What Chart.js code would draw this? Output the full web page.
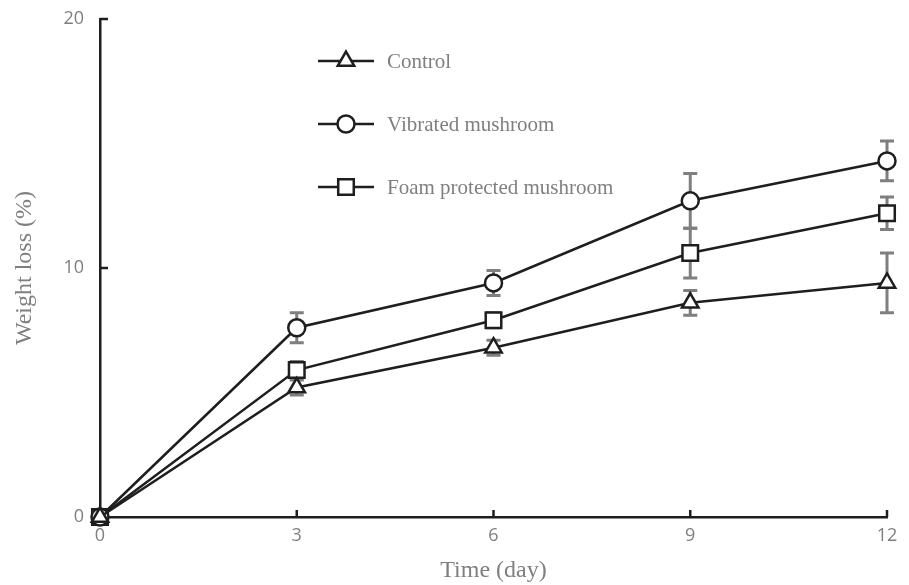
<!DOCTYPE html>
<html>
<head>
<meta charset="utf-8">
<script src="https://cdn.jsdelivr.net/npm/chart.js@4.4.1/dist/chart.umd.min.js"></script>
<style>
  html, body { margin: 0; padding: 0; background: #fff; }
  #wrap { width: 909px; height: 585px; position: relative; }
</style>
</head>
<body>
<div id="wrap"><canvas id="myChart" width="909" height="585"></canvas></div>
<script>
"use strict";

const days = [0, 3, 6, 9, 12];
const xTicks = [0, 3, 6, 9, 12];
const yTicks = [0, 10, 20];

const controlLoss = [0, 5.2, 6.8, 8.6, 9.4];
const controlErr = [0, 0.3, 0.3, 0.5, 1.2];

const vibratedLoss = [0, 7.6, 9.4, 12.7, 14.3];
const vibratedErr = [0, 0.6, 0.5, 1.1, 0.8];

const foamLoss = [0, 5.9, 7.9, 10.6, 12.2];
const foamErr = [0, 0.35, 0.3, 1.0, 0.65];

const labels = ['Control', 'Vibrated mushroom', 'Foam protected mushroom'];
const markers = ['triangle', 'circle', 'rect'];

const ink = '#1e1e1e';
const grey = '#7f7f7f';
const serif = '"Liberation Serif", "Times New Roman", serif';
const sans = '"Open Sans", "Liberation Sans", sans-serif';

function toPoints(values) {
    return days.map((d, i) => ({x: d, y: values[i]}));
}

function makeSet(label, values, errs, marker, radius) {
    return {
        label: label,
        data: toPoints(values),
        errors: errs,
        borderColor: ink,
        borderWidth: 2.5,
        backgroundColor: '#fff',
        pointStyle: marker,
        pointRadius: radius,
        pointBorderWidth: 2.5,
        pointBackgroundColor: '#fff',
        pointBorderColor: ink,
        tension: 0,
        clip: false
    };
}

// error bars behind markers, inward ticks and the in-plot legend
const extras = {
    id: 'extras',
    beforeDatasetsDraw(chart) {
        const ctx = chart.ctx;
        const xs = chart.scales.x;
        const ys = chart.scales.y;
        ctx.save();
        ctx.strokeStyle = grey;
        ctx.lineWidth = 3;
        chart.data.datasets.forEach((ds) => {
            ds.data.forEach((p, i) => {
                const e = ds.errors[i];
                if (!e) return;
                const px = xs.getPixelForValue(p.x);
                const top = ys.getPixelForValue(p.y + e);
                const bot = ys.getPixelForValue(p.y - e);
                ctx.beginPath();
                ctx.moveTo(px, top); ctx.lineTo(px, bot);
                ctx.moveTo(px - 7, top); ctx.lineTo(px + 7, top);
                ctx.moveTo(px - 7, bot); ctx.lineTo(px + 7, bot);
                ctx.stroke();
            });
        });
        ctx.restore();
    },
    afterDraw(chart) {
        const ctx = chart.ctx;
        const xs = chart.scales.x;
        const ys = chart.scales.y;
        const area = chart.chartArea;
        ctx.save();
        ctx.strokeStyle = ink;
        ctx.lineWidth = 2.5;
        ctx.beginPath();
        xTicks.forEach((t) => {
            if (t === 0) return;
            const px = xs.getPixelForValue(t);
            ctx.moveTo(px, area.bottom);
            ctx.lineTo(px, area.bottom - 7);
        });
        yTicks.forEach((t) => {
            if (t === 0) return;
            const py = ys.getPixelForValue(t);
            ctx.moveTo(area.left, py);
            ctx.lineTo(area.left + 8, py);
        });
        ctx.stroke();

        // legend
        const lx0 = 318, lx1 = 374, ly = [61, 124, 187];
        chart.data.datasets.forEach((ds, i) => {
            ctx.strokeStyle = ink;
            ctx.lineWidth = 2.5;
            ctx.beginPath();
            ctx.moveTo(lx0, ly[i]);
            ctx.lineTo(lx1, ly[i]);
            ctx.stroke();
            ctx.fillStyle = '#fff';
            Chart.helpers.drawPoint(ctx, {
                pointStyle: ds.pointStyle,
                radius: ds.pointRadius,
                borderWidth: 2.5,
                rotation: 0
            }, (lx0 + lx1) / 2, ly[i]);
            ctx.fillStyle = grey;
            ctx.font = '21px ' + serif;
            ctx.textBaseline = 'middle';
            ctx.textAlign = 'left';
            ctx.fillText(ds.label, 387, ly[i] + 1);
        });
        ctx.restore();
    }
};

const ctx = document.getElementById('myChart');

const chart = new Chart(ctx, {
    type: 'line',
    data: {
        datasets: [
            makeSet(labels[0], controlLoss, controlErr, markers[0], 9.5),
            makeSet(labels[1], vibratedLoss, vibratedErr, markers[1], 8.5),
            makeSet(labels[2], foamLoss, foamErr, markers[2], 11)
        ]
    },
    options: {
        responsive: false,
        animation: false,
        layout: {padding: {top: 19, right: 22, left: 0, bottom: 0}},
        plugins: {
            legend: {display: false},
            tooltip: {enabled: false}
        },
        scales: {
            x: {
                type: 'linear',
                min: 0,
                max: 12,
                afterBuildTicks: (scale) => { scale.ticks = xTicks.map((v) => ({value: v})); },
                afterFit: (scale) => {
                    scale.height = 68;
                    scale.paddingLeft = 0;
                    scale.paddingRight = 0;
                },
                grid: {display: false, drawTicks: false},
                border: {display: true, color: ink, width: 2.5},
                ticks: {
                    color: grey,
                    padding: 8,
                    font: {family: sans, size: 18}
                },
                title: {
                    display: true,
                    text: 'Time (day)',
                    color: grey,
                    padding: {top: 2, bottom: 0},
                    font: {family: serif, size: 24}
                }
            },
            y: {
                min: 0,
                max: 20,
                afterBuildTicks: (scale) => { scale.ticks = yTicks.map((v) => ({value: v})); },
                afterFit: (scale) => {
                    scale.width = 100;
                    scale.paddingTop = 0;
                    scale.paddingBottom = 0;
                },
                grid: {display: false, drawTicks: false},
                border: {display: true, color: ink, width: 2.5},
                ticks: {
                    color: grey,
                    padding: 16,
                    font: {family: sans, size: 18}
                },
                title: {
                    display: true,
                    text: 'Weight loss (%)',
                    color: grey,
                    padding: {top: 10, bottom: 0},
                    font: {family: serif, size: 24}
                }
            }
        }
    },
    plugins: [extras]
});
</script>
</body>
</html>
